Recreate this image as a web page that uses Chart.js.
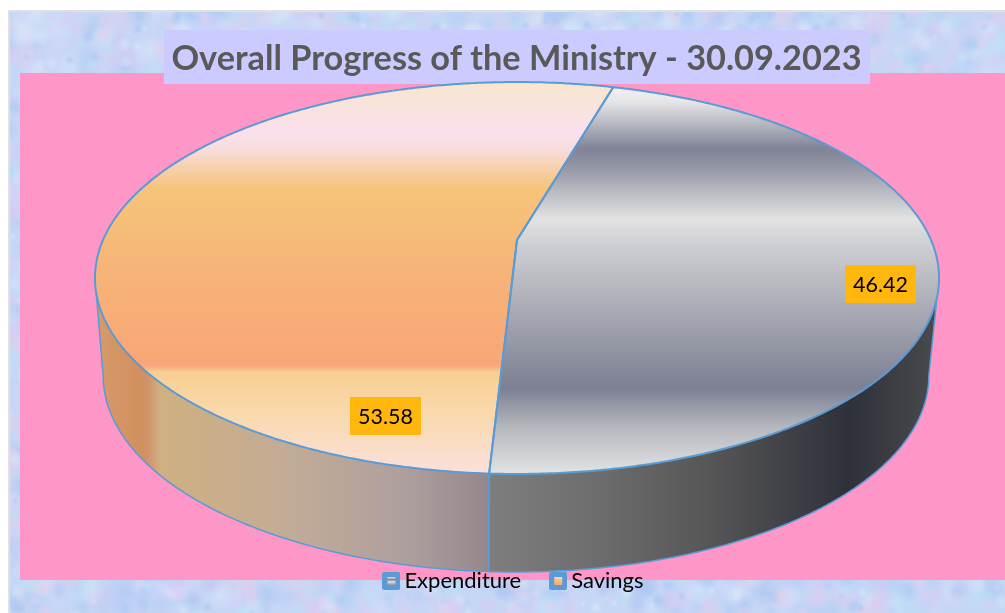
<!DOCTYPE html>
<html>
<head>
<meta charset="utf-8">
<title>Overall Progress of the Ministry</title>
<script src="https://cdn.jsdelivr.net/npm/chart.js@4"></script>
<style>
  body { margin: 0; background: #fff; }
  canvas { display: block; }
</style>
</head>
<body>
<canvas id="graph" width="1005" height="613"></canvas>
<script>
// values
const categories = ["Expenditure", "Savings"];
const values = [46.42, 53.58];
const chartTitle = "Overall Progress of the Ministry - 30.09.2023";
const firstSliceAngle = 16;

const WIDTH = 1005, HEIGHT = 613;
const BORDER = "#5B9BD5";

// tilted disc: unit circle to screen, with perspective (near edge is bigger)
const persp = -0.1939;
const top3d = { cx: 517, cy: 240, a: 414, b: 188.6 };
const bottom3d = { cx: 516, cy: 338, a: 405, b: 188.6 };

function project(disc, angle) {
    const u = Math.cos(angle), v = Math.sin(angle);
    const w = 1 + persp * v;
    return [disc.cx + disc.a * u / w, disc.cy + disc.b * v / w];
}

function arcPoints(disc, from, to) {
    const pts = [];
    const n = Math.max(2, Math.ceil(Math.abs(to - from) / 0.008));
    for (let i = 0; i <= n; i++) {
        pts.push(project(disc, from + (to - from) * i / n));
    }
    return pts;
}

function trace(ctx, pts) {
    ctx.beginPath();
    pts.forEach((p, i) => i ? ctx.lineTo(p[0], p[1]) : ctx.moveTo(p[0], p[1]));
}

function stops(grad, list) {
    list.forEach(s => grad.addColorStop(s[0], s[1]));
    return grad;
}

// colours of the top face, by height on screen (y 82 -> 474)
const topColors = [
    [[0, "#F6F6F6"], [0.05, "#E6E6E8"], [0.17, "#7F8496"], [0.21, "#8F93A2"], [0.35, "#E2E2E2"], [0.42, "#CDCED2"],
     [0.58, "#A9ABB4"], [0.78, "#7C7F92"], [0.88, "#B5B7BE"], [1, "#E3E3E4"]],
    [[0, "#F8E6CF"], [0.13, "#FAE0EC"], [0.17, "#F8DDDD"], [0.27, "#F6C47A"], [0.45, "#F6B678"], [0.715, "#F9A677"],
     [0.725, "#F9A880"], [0.74, "#F8CF92"], [0.85, "#F9D9AE"], [1, "#FBE0DC"]]
];
// colours of the side wall, left to right
const wallColors = [
    [[0, "#7E7E7E"], [0.25, "#6C6C6C"], [0.5, "#555556"], [0.8, "#2F313A"], [1, "#4A4B4E"]],
    [[0, "#D69A6A"], [0.115, "#D2905F"], [0.13, "#CF9069"], [0.165, "#CFB081"], [0.5, "#C2AB97"], [0.8, "#AD9E9E"], [1, "#94878B"]]
];

function mottled() {
    const c = document.createElement("canvas");
    c.width = WIDTH; c.height = HEIGHT;
    const x = c.getContext("2d");
    x.fillStyle = "#C6D6F5";
    x.fillRect(0, 0, WIDTH, HEIGHT);
    const tints = ["#B4CEF6", "#D6CCF2", "#BBE0F4", "#D2D6F8", "#E0CEEC", "#A8C6F2", "#D8E8F8"];
    let seed = 20230930;
    const next = () => (seed = (seed * 16807) % 2147483647) / 2147483647;
    for (let i = 0; i < 6000; i++) {
        const px = next() * WIDTH, py = next() * HEIGHT, r = 3 + next() * 14;
        const g = x.createRadialGradient(px, py, 0, px, py, r);
        const t = tints[Math.floor(next() * tints.length)];
        g.addColorStop(0, t + "AA");
        g.addColorStop(1, t + "00");
        x.fillStyle = g;
        x.fillRect(px - r, py - r, r * 2, r * 2);
    }
    return c;
}

function swatch(colors) {
    const c = document.createElement("canvas");
    c.width = 18; c.height = 18;
    const x = c.getContext("2d");
    x.fillStyle = BORDER;
    x.beginPath();
    x.roundRect(0, 0, 18, 18, 2);
    x.fill();
    x.fillStyle = stops(x.createLinearGradient(0, 5, 0, 13), colors);
    x.fillRect(5, 5, 8, 8);
    return c;
}

const legendSwatches = [
    swatch([[0, "#E8E8E8"], [0.35, "#7F8496"], [0.6, "#E2E2E2"], [1, "#8F93A2"]]),
    swatch([[0, "#F9DDC0"], [0.4, "#F6C47A"], [1, "#F9A677"]])
];

const texture = mottled();

const pie3d = {
    id: "pie3d",
    beforeDraw(chart) {
        const ctx = chart.ctx;
        ctx.save();
        // page background, frame, pink area, title box
        ctx.fillStyle = "#E0E0E0";
        ctx.fillRect(8, 10, WIDTH - 8, HEIGHT - 10);
        ctx.drawImage(texture, 10, 12, WIDTH - 10, HEIGHT - 12, 10, 12, WIDTH - 10, HEIGHT - 12);
        ctx.fillStyle = "#FF96C8";
        ctx.fillRect(20, 73, WIDTH - 20, 507);
        ctx.fillStyle = "#CCCBFF";
        ctx.fillRect(164, 30, 706, 54);

        // angles come from the library's arc elements
        const arcs = chart.getDatasetMeta(0).data;
        const rightEdge = Math.asin(-persp), leftEdge = Math.PI - rightEdge;

        arcs.forEach((arc, i) => {
            const from = Math.max(arc.startAngle, rightEdge);
            const to = Math.min(arc.endAngle, leftEdge);
            if (to <= from) return;
            const upper = arcPoints(top3d, from, to);
            const lower = arcPoints(bottom3d, to, from);
            const xs = upper.concat(lower).map(p => p[0]);
            const left = Math.min(...xs), right = Math.max(...xs);
            ctx.fillStyle = stops(ctx.createLinearGradient(left, 0, right, 0), wallColors[i]);
            trace(ctx, upper.concat(lower));
            ctx.closePath();
            ctx.fill();
        });
        // wall outline: lower rim, silhouette edges, edge between the slices
        ctx.strokeStyle = BORDER;
        ctx.lineWidth = 1.5;
        trace(ctx, [project(top3d, rightEdge)].concat(arcPoints(bottom3d, rightEdge, leftEdge), [project(top3d, leftEdge)]));
        ctx.stroke();
        ctx.lineWidth = 2;
        const split = arcs[0].endAngle;
        trace(ctx, [project(top3d, split), project(bottom3d, split)]);
        ctx.stroke();

        arcs.forEach((arc, i) => {
            const pts = arcPoints(top3d, arc.startAngle, arc.endAngle);
            pts.push([top3d.cx, top3d.cy]);
            ctx.fillStyle = stops(ctx.createLinearGradient(0, 82, 0, 474), topColors[i]);
            trace(ctx, pts);
            ctx.closePath();
            ctx.fill();
        });
        ctx.lineWidth = 2;
        ctx.lineJoin = "round";
        arcs.forEach(arc => {
            const pts = arcPoints(top3d, arc.startAngle, arc.endAngle);
            pts.push([top3d.cx, top3d.cy]);
            trace(ctx, pts);
            ctx.closePath();
            ctx.stroke();
        });
        ctx.restore();
    },
    // the disc is already painted above, the library would draw it flat
    beforeDatasetsDraw() {
        return false;
    },
    afterDraw(chart) {
        const ctx = chart.ctx;
        const boxes = chart.options.plugins.pie3d.labelCentres;
        ctx.save();
        ctx.font = "21.5px Lato";
        ctx.textAlign = "center";
        ctx.textBaseline = "middle";
        chart.data.datasets[0].data.forEach((val, i) => {
            const c = boxes[i];
            ctx.fillStyle = "#FFB60D";
            ctx.fillRect(c[0] - 35.5, c[1] - 19, 71, 38);
            ctx.fillStyle = "#000";
            ctx.fillText(val.toFixed(2), c[0], c[1] + 1);
        });
        ctx.restore();
    }
};

new Chart(document.querySelector("#graph"), {
    type: "pie",
    data: {
        labels: categories,
        datasets: [{
            data: values,
            backgroundColor: ["#A9ABB4", "#F6B678"],
            borderColor: BORDER
        }]
    },
    options: {
        responsive: false,
        animation: false,
        rotation: firstSliceAngle,
        layout: { padding: { left: 28, bottom: 11 } },
        plugins: {
            pie3d: { labelCentres: [[880.5, 284], [385.5, 416]] },
            tooltip: { enabled: false },
            title: {
                display: true,
                text: chartTitle,
                color: "#595959",
                font: { family: "Lato", size: 34.3, weight: "bold" },
                padding: { top: 38, bottom: 8 }
            },
            legend: {
                position: "bottom",
                labels: {
                    color: "#595959",
                    font: { family: "Lato", size: 22 },
                    usePointStyle: true,
                    pointStyleWidth: 4,
                    padding: 35,
                    generateLabels(chart) {
                        return chart.data.labels.map((text, i) => ({
                            text: text,
                            index: i,
                            pointStyle: legendSwatches[i],
                            fillStyle: chart.data.datasets[0].backgroundColor[i]
                        }));
                    }
                }
            }
        }
    },
    plugins: [pie3d]
});
</script>
</body>
</html>
